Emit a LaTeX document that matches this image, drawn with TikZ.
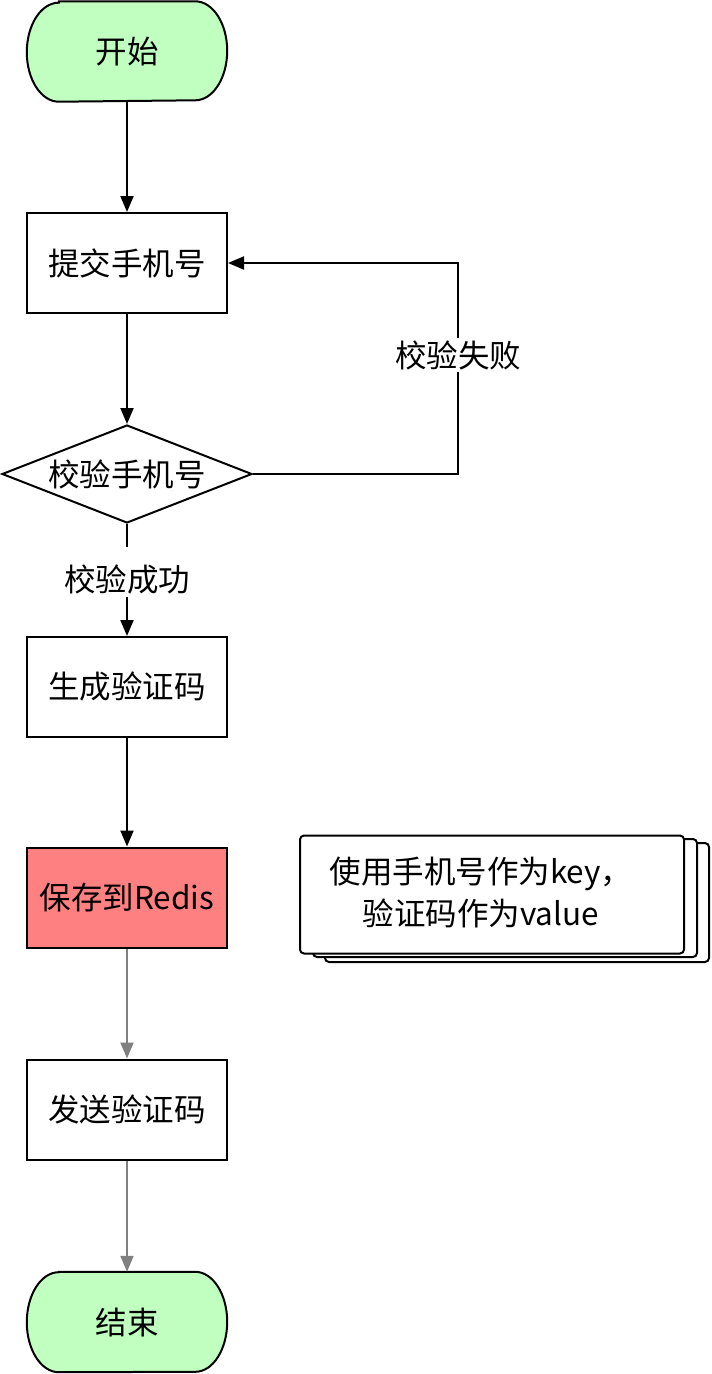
\documentclass[tikz,border=0pt]{standalone}
\usepackage{fontspec}
\setmainfont{Noto Sans CJK SC}
\usetikzlibrary{shapes.geometric,arrows.meta,calc}
\definecolor{termgreen}{HTML}{C0FFC0}
\definecolor{redisred}{HTML}{FF8080}
\definecolor{arrgray}{HTML}{808080}
\begin{document}
\begin{tikzpicture}[x=1pt,y=-1pt,
  every node/.style={font=\fontsize{31.5}{42}\selectfont},
  box/.style={draw=black,line width=2pt,minimum width=200pt,minimum height=100pt,inner sep=0pt},
  termbox/.style={minimum width=200pt,minimum height=100pt,inner sep=0pt},
  dec/.style={draw=black,line width=2pt,diamond,aspect=2.55,minimum width=250pt,minimum height=98pt,inner sep=0pt},
  flow/.style={line width=2pt,-{Triangle[length=16pt,width=13pt]}},
  grayflow/.style={flow,draw=arrgray,color=arrgray},
  lbl/.style={fill=white,inner sep=2pt},
  note/.style={draw=black,line width=2pt,rounded corners=4pt,fill=white}
]
\useasboundingbox (0,0) rectangle (712,1374);

% terminators
\node[termbox] (start) at (127,51.5) {};
\draw[line width=2pt,fill=termgreen]
  ($(start.north west)+(32,0)$) -- ($(start.north east)+(-32,0)$)
  arc[start angle=90,end angle=-90,x radius=32pt,y radius=49.5pt]
  -- ($(start.south west)+(32,0)$)
  arc[start angle=270,end angle=90,x radius=32pt,y radius=49.5pt] -- cycle;
\node at (start) {开始};

\node[termbox] (end) at (127,1322) {};
\draw[line width=2pt,fill=termgreen]
  ($(end.north west)+(32,0)$) -- ($(end.north east)+(-32,0)$)
  arc[start angle=90,end angle=-90,x radius=32pt,y radius=50pt]
  -- ($(end.south west)+(32,0)$)
  arc[start angle=270,end angle=90,x radius=32pt,y radius=50pt] -- cycle;
\node at (end) {结束};

% boxes
\node[box] (submit) at (127,263) {提交手机号};
\node[dec] (check) at (127,474) {校验手机号};
\node[box] (gen) at (127,687) {生成验证码};
\node[box,fill=redisred] (save) at (127,897.5) {保存到Redis};
\node[box] (send) at (127,1109.5) {发送验证码};

% note stack
\draw[note] (325,843) rectangle (709,962);
\draw[note] (313,839) rectangle (697,957);
\node[note,minimum width=384pt,minimum height=118pt,inner sep=0pt] (memo) at (492,894.5) {};
\node[align=center] (memotext) at (481,892) {使用手机号作为key，\\验证码作为value};

% connectors
\draw[flow] (start) -- (submit);
\draw[flow] (submit) -- (check);
\coordinate (okmid) at (127,580);
\draw[line width=2pt] (check.south) -- (127,547);
\node[lbl] (oklbl) at (okmid) {校验成功};
\draw[flow] (oklbl.south) -- (gen.north);
\draw[flow] (gen) -- (save);
\draw[grayflow] (save) -- (send);
\draw[grayflow] (send) -- (end);

\coordinate (fr) at (458,474);
\coordinate (fu) at (458,263);
\draw[flow] (check.east) -- (fr) -- (fu) -- (submit.east);
\node[lbl] (faillbl) at (458,355) {校验失败};
\end{tikzpicture}
\end{document}
